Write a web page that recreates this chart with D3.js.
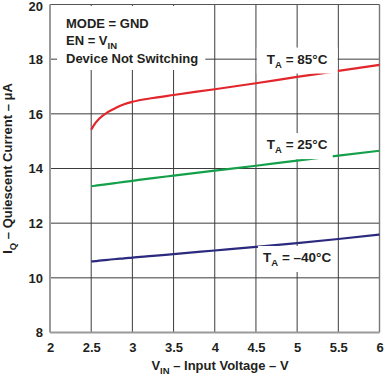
<!DOCTYPE html>
<html>
<head>
<meta charset="utf-8">
<script src="https://cdn.jsdelivr.net/npm/d3@7"></script>
<style>
  body { margin: 0; background: #fff; }
  svg text { font-family: "Liberation Sans", Arial, sans-serif; font-weight: bold; fill: #231f20; }
</style>
</head>
<body>
<div id="chart"></div>
<script>
// values
var vin = [2.5, 2.55, 2.6, 2.7, 2.8, 2.9, 3.0, 3.25, 3.5, 4.0, 4.5, 5.0, 5.5, 6.0]
var iq85 = [15.42, 15.66, 15.83, 16.06, 16.22, 16.35, 16.44, 16.58, 16.69, 16.9, 17.12, 17.35, 17.57, 17.79]
var iq25 = [13.35, 13.37, 13.39, 13.43, 13.47, 13.51, 13.55, 13.65, 13.74, 13.92, 14.1, 14.29, 14.47, 14.65]
var iqm40 = [10.6, 10.61, 10.63, 10.66, 10.69, 10.71, 10.74, 10.8, 10.87, 11.0, 11.13, 11.27, 11.42, 11.58]
var xTicks = [2, 2.5, 3, 3.5, 4, 4.5, 5, 5.5, 6]
var yTicks = [8, 10, 12, 14, 16, 18, 20]
var seriesNames = ["85", "25", "m40"]
var seriesLabels = ["85°C", "25°C", "–40°C"]
var labelAt = [[5.0, 17.84], [5.0, 14.71], [5.0, 10.58]] // where each label's text sits (data coords)
var infoLines = ["MODE = GND", "EN = V", "Device Not Switching"]

var width = 385
var height = 378
var margin = { top: 4.5, right: 5.5, bottom: 45.5, left: 50 }

var svg = d3.select("#chart").append("svg")
  .attr("width", width)
  .attr("height", height)

var x = d3.scaleLinear().domain([2, 6]).range([margin.left, width - margin.right])
var y = d3.scaleLinear().domain([8, 20]).range([height - margin.bottom, margin.top])

// grid
svg.append("g").selectAll("line.v")
  .data(xTicks.slice(1, -1))
  .enter().append("line")
  .attr("x1", function (d) { return x(d) }).attr("x2", function (d) { return x(d) })
  .attr("y1", y(20)).attr("y2", y(8))
  .attr("stroke", "#3c3c3c").attr("stroke-width", 1)

svg.append("g").selectAll("line.h")
  .data(yTicks.slice(1, -1))
  .enter().append("line")
  .attr("y1", function (d) { return y(d) }).attr("y2", function (d) { return y(d) })
  .attr("x1", x(2)).attr("x2", x(6))
  .attr("stroke", "#3c3c3c").attr("stroke-width", 1)

// frame
svg.append("line").attr("x1", x(2)).attr("x2", x(6)).attr("y1", y(20)).attr("y2", y(20)).attr("stroke", "#555").attr("stroke-width", 1.2)
svg.append("line").attr("x1", x(6)).attr("x2", x(6)).attr("y1", y(20)).attr("y2", y(8)).attr("stroke", "#777").attr("stroke-width", 1.4)
svg.append("line").attr("x1", x(2)).attr("x2", x(2)).attr("y1", y(20)).attr("y2", y(8)).attr("stroke", "#9a9a9a").attr("stroke-width", 2)
svg.append("line").attr("x1", x(2)).attr("x2", x(6)).attr("y1", y(8)).attr("y2", y(8)).attr("stroke", "#9a9a9a").attr("stroke-width", 2)

// axes (labels only)
var xAxis = svg.append("g")
  .attr("transform", "translate(0," + y(8) + ")")
  .call(d3.axisBottom(x).tickValues(xTicks).tickSize(0).tickPadding(10).tickFormat(d3.format("")))
xAxis.select(".domain").remove()
xAxis.selectAll("text").style("font-size", "13px")

var yAxis = svg.append("g")
  .attr("transform", "translate(" + x(2) + ",0)")
  .call(d3.axisLeft(y).tickValues(yTicks).tickSize(0).tickPadding(7))
yAxis.select(".domain").remove()
yAxis.selectAll("text").style("font-size", "13px")
  .attr("dy", function (d) { return d == 20 ? "0.45em" : "0.32em" }) // keep "20" inside the window

// info block top left with white background
var info = svg.append("g")
var infoBg = info.append("rect").attr("fill", "#fff")
var infoText = info.append("text").attr("x", 66).attr("y", 28).style("font-size", "13px")
infoLines.forEach(function (t, i) {
  infoText.append("tspan").attr("x", 66).attr("y", 28 + i * 17.3).text(t)
  if (i == 1) {
    infoText.append("tspan").attr("dy", 4).style("font-size", "9.5px").text("IN")
  }
})
var ib = infoText.node().getBBox()
infoBg.attr("x", ib.x - 9).attr("y", 6).attr("width", ib.width + 16).attr("height", 64)

// curves
var colors = ["#e2262b", "#14a04a", "#2b2a7e"]
var allSeries = [iq85, iq25, iqm40]
var line = d3.line()
  .x(function (d) { return x(d[0]) })
  .y(function (d) { return y(d[1]) })
  .curve(d3.curveMonotoneX)

allSeries.forEach(function (vals, i) {
  svg.append("path")
    .datum(vin.map(function (v, j) { return [v, vals[j]] }))
    .attr("class", "s" + seriesNames[i])
    .attr("d", line)
    .attr("fill", "none")
    .attr("stroke", colors[i])
    .attr("stroke-width", 2.2)
})

// temperature labels
seriesLabels.forEach(function (lab, i) {
  var g = svg.append("g")
  var bg = g.append("rect").attr("fill", "#fff")
  var t = g.append("text")
    .attr("x", x(labelAt[i][0]))
    .attr("y", y(labelAt[i][1]))
    .attr("text-anchor", "middle")
    .style("font-size", "13.5px")
  t.append("tspan").text("T")
  t.append("tspan").attr("dy", 4).style("font-size", "9.5px").text("A")
  t.append("tspan").attr("dy", -4).text(" = " + lab)
  var b = t.node().getBBox()
  var pad = i == 0 ? 10 : 5
  bg.attr("x", b.x - pad).attr("y", b.y - 4).attr("width", b.width + 2 * pad).attr("height", b.height + 8)
})

// axis titles
var xt = svg.append("text")
  .attr("x", 220).attr("y", 370)
  .attr("text-anchor", "middle")
  .style("font-size", "13px")
xt.append("tspan").text("V")
xt.append("tspan").attr("dy", 4).style("font-size", "9.5px").text("IN")
xt.append("tspan").attr("dy", -4).text(" – Input Voltage – V")

var yt = svg.append("text")
  .attr("transform", "translate(12," + ((margin.top + height - margin.bottom) / 2) + ") rotate(-90)")
  .attr("text-anchor", "middle")
  .style("font-size", "13px")
yt.append("tspan").text("I")
yt.append("tspan").attr("dy", 4).style("font-size", "9.5px").text("Q")
yt.append("tspan").attr("dy", -4).text(" – Quiescent Current – μA")
</script>
</body>
</html>
